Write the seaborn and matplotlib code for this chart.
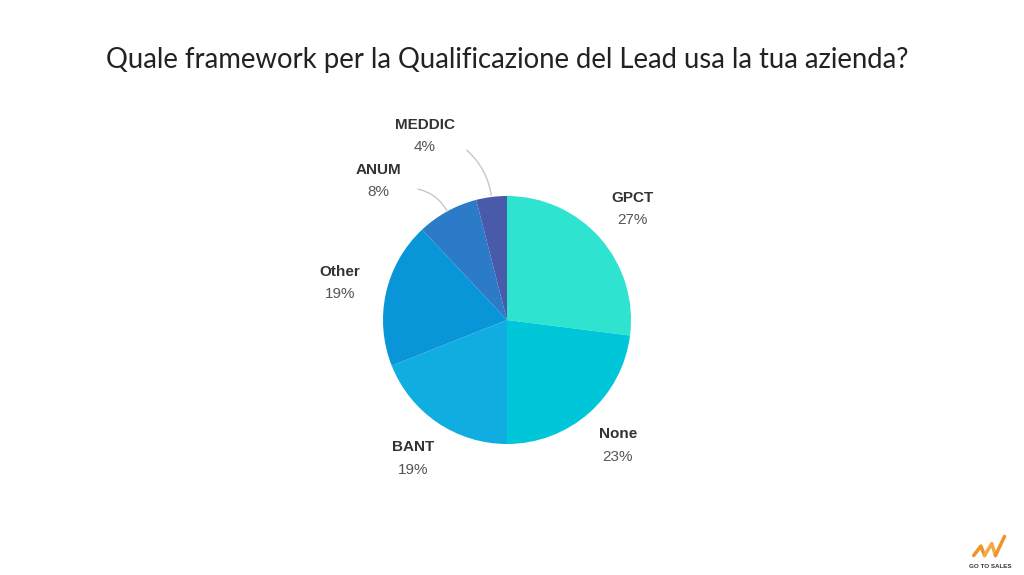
import numpy as np
import matplotlib
matplotlib.use('Agg')
import matplotlib.pyplot as plt
import seaborn as sns

# Dati del grafico
categorie = ['GPCT', 'None', 'BANT', 'Other', 'ANUM', 'MEDDIC']
percentuali = [27, 23, 19, 19, 8, 4]
colori = ['#2ee3d0', '#00c6d9', '#10aee0', '#0896d8', '#2b7bc8', '#4a5aaa']
titolo = 'Quale framework per la Qualificazione del Lead usa la tua azienda?'

sns.set_theme(style='white')
plt.rcParams['font.family'] = ['Liberation Sans', 'DejaVu Sans']

fig = plt.figure(figsize=(10.24, 5.75), dpi=100)
fig.patch.set_facecolor('white')

# Titolo
fig.text(0.495, 1 - 60 / 575, titolo, ha='center', va='center',
         fontsize=19.8, color='#222222', family=['Lato', 'DejaVu Sans'])

# Torta
r_px = 124
cx, cy = 507 / 1024, 1 - 320 / 575
ax = fig.add_axes([cx - r_px / 1024, cy - r_px / 575, 2 * r_px / 1024, 2 * r_px / 575])
wedges, _ = ax.pie(percentuali, colors=colori, startangle=90, counterclock=False,
                   radius=1, wedgeprops=dict(linewidth=0))
ax.set_xlim(-1, 1)
ax.set_ylim(-1, 1)
ax.set_aspect('equal')
ax.axis('off')

# Etichette
for i, (w, nome, p) in enumerate(zip(wedges, categorie, percentuali)):
    ang = np.deg2rad((w.theta1 + w.theta2) / 2)
    if nome == 'ANUM':
        lx, ly = -129 / r_px, 139 / r_px
        ax.annotate('', xy=(0.98 * np.cos(ang), 0.98 * np.sin(ang)), xytext=(lx + 0.3, ly - 0.06),
                    arrowprops=dict(arrowstyle='-', color='#c8c8c8', lw=1,
                                    connectionstyle='arc3,rad=-0.25'), annotation_clip=False)
    elif nome == 'MEDDIC':
        lx, ly = -82 / r_px, 184 / r_px
        ax.annotate('', xy=(0.99 * np.cos(ang), 0.99 * np.sin(ang)), xytext=(lx + 0.32, ly - 0.1),
                    arrowprops=dict(arrowstyle='-', color='#c8c8c8', lw=1,
                                    connectionstyle='arc3,rad=-0.2'), annotation_clip=False)
    else:
        rr = 1.38 if nome == 'Other' else 1.35
        lx, ly = rr * np.cos(ang), rr * np.sin(ang)
    ax.text(lx, ly + 0.09, nome, ha='center', va='center', fontsize=11,
            fontweight='bold', color='#333333', clip_on=False)
    ax.text(lx, ly - 0.09, f'{p}%', ha='center', va='center', fontsize=11,
            color='#555555', clip_on=False)

# Logo in basso a destra
lg = fig.add_axes([970 / 1024, 1 - 558 / 575, 40 / 1024, 24 / 575])
lg.plot([0, 0.2, 0.3], [0.1, 0.5, 0.1], color='#f0932b', lw=2.5, solid_capstyle='round')
lg.plot([0.3, 0.5, 0.6], [0.1, 0.6, 0.1], color='#f7a845', lw=2.5, solid_capstyle='round')
lg.plot([0.6, 0.85], [0.1, 0.9], color='#f0932b', lw=2.5, solid_capstyle='round')
lg.set_xlim(-0.1, 1)
lg.set_ylim(0, 1)
lg.axis('off')
fig.text(990 / 1024, 1 - 566 / 575, 'GO TO SALES', ha='center', va='center',
         fontsize=4.5, fontweight='bold', color='#333333')

fig.savefig('out.png', dpi=100, facecolor='white')
